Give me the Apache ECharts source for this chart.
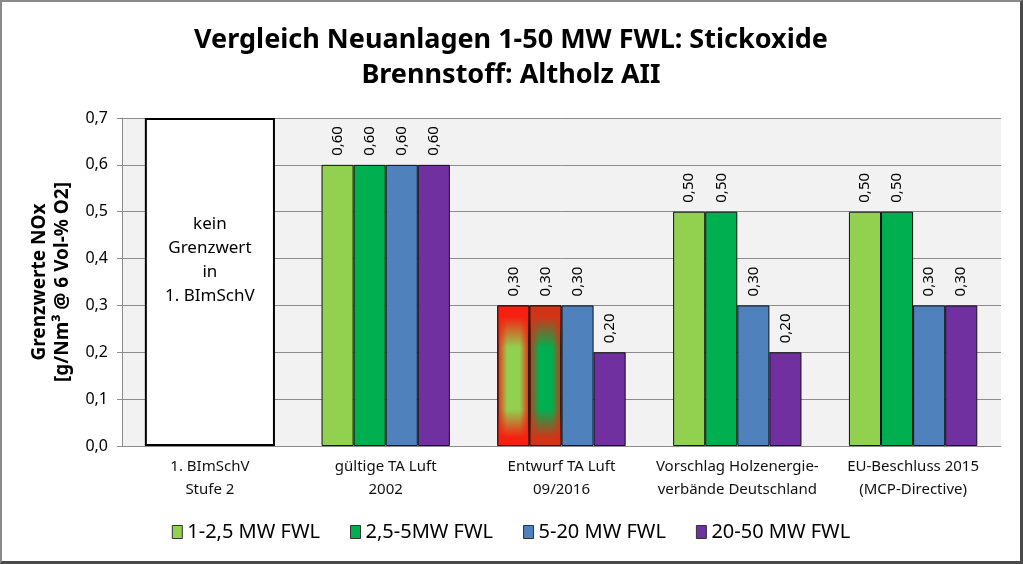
<!DOCTYPE html>
<html>
<head>
<meta charset="utf-8">
<script src="https://cdn.jsdelivr.net/npm/echarts@6/dist/echarts.min.js"></script>
<style>
  html, body { margin: 0; padding: 0; background: #fff; }
  #chart {
    width: 1023px; height: 564px; box-sizing: border-box;
    border-left: 2px solid #8a8a8a; border-top: 2px solid #8a8a8a;
    border-right: 3px solid #4a4a4a; border-bottom: 3px solid #4a4a4a;
  }
</style>
</head>
<body>
<div id="chart"></div>
<script>
// categories (x axis)
const categories = [
  '1. BImSchV\nStufe 2',
  'gültige TA Luft\n2002',
  'Entwurf TA Luft\n09/2016',
  'Vorschlag Holzenergie-\nverbände Deutschland',
  'EU-Beschluss 2015\n(MCP-Directive)'
]
const seriesNames = ['1-2,5 MW FWL', '2,5-5MW FWL', '5-20 MW FWL', '20-50 MW FWL']
const seriesColors = ['#92D050', '#00B050', '#4F81BD', '#7030A0']
const glowEdge = ['#f52010', '#d23418']

// Grenzwerte NOx [g/Nm³]
const mw1_2_5 = ['-', 0.6, 0.3, 0.5, 0.5]
const mw2_5_5 = ['-', 0.6, 0.3, 0.5, 0.5]
const mw5_20 = ['-', 0.6, 0.3, 0.3, 0.3]
const mw20_50 = ['-', 0.6, 0.2, 0.2, 0.3]
const seriesValues = [mw1_2_5, mw2_5_5, mw5_20, mw20_50]

// "kein Grenzwert" box spans the full axis in the first category
const noLimit = [0.7, '-', '-', '-', '-']
const noLimitText = 'kein\nGrenzwert\nin\n1. BImSchV'

// draft values marked with red glow (category index, first two series)
const draftIndex = 2
const glowSeries = [0, 1]

const yTicks = { min: 0, max: 0.7, interval: 0.1 }

const FONT = 'Noto Sans'

const chart = echarts.init(document.getElementById('chart'))

function hGlow(base, edge) {
  return {
    type: 'linear', x: 0, y: 0, x2: 1, y2: 0,
    colorStops: [
      { offset: 0, color: edge },
      { offset: 0.3, color: base },
      { offset: 0.7, color: base },
      { offset: 1, color: edge }
    ]
  }
}

function vGlow(edge) {
  const c = echarts.color.modifyAlpha(edge, 1)
  const t = echarts.color.modifyAlpha(edge, 0)
  return {
    type: 'linear', x: 0, y: 0, x2: 0, y2: 1,
    colorStops: [
      { offset: 0, color: c },
      { offset: 0.08, color: c },
      { offset: 0.3, color: t },
      { offset: 0.74, color: t },
      { offset: 0.94, color: c },
      { offset: 1, color: c }
    ]
  }
}

const barCommon = {
  type: 'bar',
  barGap: '0%',
  barCategoryGap: '27%'
}

const mainSeries = seriesValues.map((vals, i) => ({
  ...barCommon,
  name: seriesNames[i],
  xAxisIndex: 0,
  itemStyle: { color: seriesColors[i], borderColor: '#111', borderWidth: 1 },
  label: {
    show: true,
    position: 'top',
    rotate: 90,
    align: 'left',
    verticalAlign: 'middle',
    distance: 9,
    fontFamily: FONT,
    fontSize: 15,
    color: '#000',
    formatter: p => p.value.toFixed(2).replace('.', ',')
  },
  data: vals.map((v, j) => (j === draftIndex && glowSeries.includes(i))
    ? { value: v, itemStyle: { color: hGlow(seriesColors[i], glowEdge[i]) } }
    : v)
}))

// vertical red fade overlay for the draft bars (same layout on a hidden axis)
const overlaySeries = seriesValues.map((vals, i) => ({
  ...barCommon,
  name: 'glow' + i,
  xAxisIndex: 2,
  silent: true,
  itemStyle: {
    borderColor: '#111', borderWidth: 1,
    color: vGlow(glowEdge[i] || '#f52010')
  },
  data: vals.map((v, j) => (j === draftIndex && glowSeries.includes(i)) ? v : '-')
}))

const boxSeries = {
  type: 'bar',
  name: 'kein Grenzwert',
  xAxisIndex: 1,
  barCategoryGap: '26%',
  silent: true,
  itemStyle: { color: '#fff', borderColor: '#000', borderWidth: 2 },
  label: {
    show: true,
    position: ['50%', 94],
    align: 'center',
    verticalAlign: 'top',
    formatter: noLimitText,
    fontFamily: FONT,
    fontSize: 17,
    lineHeight: 24,
    color: '#000'
  },
  data: noLimit
}

const hiddenAxis = {
  type: 'category',
  data: categories,
  show: false,
  position: 'bottom'
}

chart.setOption({
  animation: false,
  textStyle: { fontFamily: FONT },
  title: {
    text: 'Vergleich Neuanlagen 1-50 MW FWL: Stickoxide\nBrennstoff: Altholz AII',
    left: 'center',
    top: 16,
    textStyle: {
      fontFamily: FONT, fontSize: 27, fontWeight: 'bold', color: '#000', lineHeight: 35
    }
  },
  legend: {
    data: seriesNames,
    bottom: 14,
    left: 'center',
    itemWidth: 10,
    itemHeight: 13,
    itemGap: 30,
    icon: 'rect',
    itemStyle: { borderColor: '#333', borderWidth: 1 },
    textStyle: { fontFamily: FONT, fontSize: 20, color: '#000' }
  },
  grid: {
    left: 120, right: 19, top: 116, bottom: 115,
    show: true, backgroundColor: '#f2f2f2', borderWidth: 0
  },
  xAxis: [
    {
      type: 'category',
      data: categories,
      axisLine: { lineStyle: { color: '#8c8c8c' } },
      axisTick: { length: 7, lineStyle: { color: '#8c8c8c' } },
      axisLabel: {
        interval: 0, margin: 9, fontFamily: FONT, fontSize: 15, lineHeight: 23, color: '#111'
      }
    },
    hiddenAxis,
    hiddenAxis
  ],
  yAxis: {
    type: 'value',
    min: yTicks.min,
    max: yTicks.max,
    interval: yTicks.interval,
    name: 'Grenzwerte NOx\n[g/Nm³ @ 6 Vol-% O2]',
    nameLocation: 'middle',
    nameRotate: 90,
    nameGap: 48,
    nameTextStyle: { fontFamily: FONT, fontSize: 19, fontWeight: 'bold', color: '#000', lineHeight: 23 },
    axisLine: { show: true, lineStyle: { color: '#8c8c8c' } },
    axisTick: { show: true, length: 5, lineStyle: { color: '#8c8c8c' } },
    splitLine: { lineStyle: { color: '#8c8c8c', width: 1 } },
    axisLabel: {
      margin: 14, fontFamily: FONT, fontSize: 16, color: '#000',
      formatter: v => v.toFixed(1).replace('.', ',')
    }
  },
  series: [boxSeries, ...mainSeries, ...overlaySeries]
})
</script>
</body>
</html>
